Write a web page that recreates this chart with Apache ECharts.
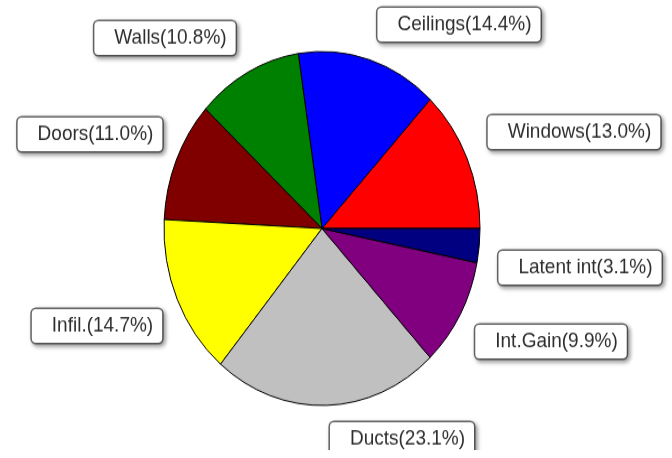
<!DOCTYPE html>
<html>
<head>
<meta charset="utf-8">
<script src="https://cdn.jsdelivr.net/npm/echarts@6/dist/echarts.min.js"></script>
<style>
  html, body { margin: 0; padding: 0; background: #fff; overflow: hidden; }
  /* the reference is a round pie stretched vertically, so stretch the whole chart */
  #chart { width: 672px; height: 450px; transform: scaleY(1.12); transform-origin: 0 0; }
</style>
</head>
<body>
<div id="chart"></div>
<script>
// data
const categories = ['Windows', 'Ceilings', 'Walls', 'Doors', 'Infil.', 'Ducts', 'Int.Gain', 'Latent int'];
const shares = [13.0, 14.4, 10.8, 11.0, 14.7, 23.1, 9.9, 3.1];
const sliceColors = ['#ff0000', '#0000ff', '#008000', '#800000', '#ffff00', '#c0c0c0', '#800080', '#000080'];

// label box centres (unstretched chart coords)
const labelAnchors = [
  [574, 118], [459, 22], [165, 34], [90, 120],
  [97, 291], [402, 392], [551, 305], [580, 239]
];

const myChart = echarts.init(document.getElementById('chart'));

myChart.setOption({
  animation: false,
  series: [{
    type: 'pie',
    center: [322, 204],
    radius: 158,
    startAngle: 0,
    clockwise: false,
    avoidLabelOverlap: false,
    itemStyle: { borderColor: '#000', borderWidth: 1 },
    labelLine: { show: false },
    label: {
      show: true,
      position: 'outside',
      formatter: p => p.name + '(' + p.value.toFixed(1) + '%)',
      fontFamily: 'Liberation Sans, Arial, sans-serif',
      fontSize: 19,
      color: '#2e2e2e',
      backgroundColor: '#fff',
      borderColor: '#666',
      borderWidth: 1.5,
      borderRadius: 4,
      padding: [6, 9, 5, 20],
      shadowColor: 'rgba(0,0,0,0.35)',
      shadowBlur: 4,
      shadowOffsetX: 2,
      shadowOffsetY: 2
    },
    labelLayout: params => {
      const a = labelAnchors[params.dataIndex];
      return { x: a[0], y: a[1], align: 'center', verticalAlign: 'middle' };
    },
    emphasis: { disabled: true },
    data: categories.map((name, i) => ({
      name: name,
      value: shares[i],
      itemStyle: { color: sliceColors[i] }
    }))
  }]
});
</script>
</body>
</html>
